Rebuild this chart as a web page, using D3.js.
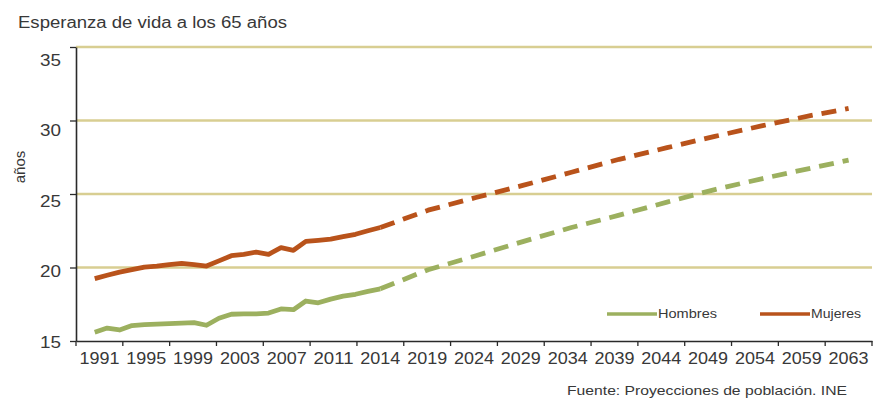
<!DOCTYPE html>
<html>
<head>
<meta charset="utf-8">
<script src="https://cdn.jsdelivr.net/npm/d3@7/dist/d3.min.js"></script>
<style>
  html, body { margin: 0; padding: 0; background: #fff; }
  svg { display: block; font-family: "Liberation Sans", Arial, sans-serif; }
  .txt { fill: #383838; }
</style>
</head>
<body>
<svg id="chart" width="873" height="404"></svg>
<script>
// Esperanza de vida a los 65 años: observed series and INE projections
const xLabels = ["1991","1995","1999","2003","2007","2011","2014","2019","2024",
                 "2029","2034","2039","2044","2049","2054","2059","2063"];
const yTicks = [15, 20, 25, 30, 35];
const gridValues = [20, 25, 30, 35];

const histYears = [1991,1992,1993,1994,1995,1996,1997,1998,1999,2000,2001,2002,
                   2003,2004,2005,2006,2007,2008,2009,2010,2011,2012,2013,2014];
const histHombres = [15.60,15.88,15.75,16.05,16.12,16.15,16.18,16.22,16.25,16.07,16.55,16.82,
                     16.84,16.85,16.90,17.18,17.13,17.72,17.60,17.85,18.05,18.18,18.37,18.55];
const histMujeres = [19.24,19.47,19.69,19.86,20.03,20.10,20.20,20.28,20.20,20.10,20.45,20.80,
                     20.90,21.05,20.90,21.35,21.17,21.78,21.85,21.93,22.10,22.26,22.50,22.72];

const projYears = [2014,2019,2024,2029,2034,2039,2044,2049,2054,2059,2063];
const projHombres = [18.55,19.85,20.80,21.78,22.72,23.56,24.45,25.30,26.05,26.75,27.30];
const projMujeres = [22.72,23.90,24.76,25.60,26.48,27.36,28.15,28.92,29.65,30.33,30.82];

const colorHombres = "#9cb05f";
const colorMujeres = "#b9531b";
const gridColor = "#d8ce92";

const svg = d3.select("#chart");
const plot = { left: 76, right: 872, top: 47, bottom: 341 };

// Category bands for the axis labels; tick marks sit between bands
const band = d3.scaleBand().domain(xLabels).range([plot.left, plot.right]);
const step = band.step();

// Year → x, anchored on the band layout of the category axis
const x = d3.scaleLinear()
  .domain([1991, 2014, 2063])
  .range([band("1991") + step * 0.4, band("2014") + step / 2, band("2063") + step / 2]);

const y = d3.scaleLinear().domain([15, 35]).range([plot.bottom, plot.top]);
// Value labels of the vertical axis are set on a slightly tighter spacing
const yLabel = d3.scaleLinear().domain([15, 35]).range([plot.bottom + 1, plot.top + 13]);

// Gridlines
svg.append("g")
  .selectAll("line")
  .data(gridValues)
  .join("line")
  .attr("x1", plot.left).attr("x2", plot.right)
  .attr("y1", d => y(d)).attr("y2", d => y(d))
  .attr("stroke", gridColor)
  .attr("stroke-width", 2.6);

// Vertical axis with outward tick marks
const yAxis = svg.append("g")
  .attr("transform", `translate(${plot.left},0)`)
  .call(d3.axisLeft(y).tickValues(yTicks).tickSize(6).tickSizeOuter(0).tickFormat(""));
yAxis.select(".domain").attr("stroke", "#2a2a2a").attr("stroke-width", 1.6);
yAxis.selectAll(".tick line").attr("stroke", "#2a2a2a").attr("stroke-width", 1.3);

svg.append("g")
  .selectAll("text")
  .data(yTicks)
  .join("text")
  .attr("class", "txt")
  .attr("x", 61)
  .attr("y", d => yLabel(d))
  .attr("dy", "0.35em")
  .attr("text-anchor", "end")
  .attr("font-size", 17)
  .attr("textLength", 21)
  .attr("lengthAdjust", "spacingAndGlyphs")
  .text(d => d);

// Horizontal axis: labels centred in each band
const xAxis = svg.append("g")
  .attr("transform", `translate(0,${plot.bottom})`)
  .call(d3.axisBottom(band).tickSize(0).tickSizeOuter(0).tickPadding(11));
xAxis.select(".domain").attr("stroke", "#2a2a2a").attr("stroke-width", 1.6);
xAxis.selectAll(".tick text")
  .attr("class", "txt")
  .attr("font-size", 16.5)
  .attr("textLength", 40)
  .attr("lengthAdjust", "spacingAndGlyphs")
  .attr("font-family", "Liberation Sans, Arial, sans-serif");

// Tick marks at the band boundaries
const boundaries = xLabels.map(l => band(l)).concat([plot.right]);
svg.append("g")
  .selectAll("line")
  .data(boundaries)
  .join("line")
  .attr("x1", d => d).attr("x2", d => d)
  .attr("y1", plot.bottom).attr("y2", plot.bottom + 5)
  .attr("stroke", "#2a2a2a")
  .attr("stroke-width", 1.3);

// Series lines
const line = d3.line().x(d => x(d.year)).y(d => y(d.v));
const zip = (years, vals) => years.map((yr, i) => ({ year: yr, v: vals[i] }));

const series = [
  { data: zip(histYears, histHombres), color: colorHombres, dash: null },
  { data: zip(histYears, histMujeres), color: colorMujeres, dash: null },
  { data: zip(projYears, projHombres), color: colorHombres, dash: "15,9" },
  { data: zip(projYears, projMujeres), color: colorMujeres, dash: "15,9" }
];

svg.append("g")
  .selectAll("path")
  .data(series)
  .join("path")
  .attr("d", d => line(d.data))
  .attr("fill", "none")
  .attr("stroke", d => d.color)
  .attr("stroke-width", 4.8)
  .attr("stroke-linejoin", "round")
  .attr("stroke-dasharray", d => d.dash);

// Legend
const legend = [
  { name: "Hombres", color: colorHombres, x: 607 },
  { name: "Mujeres", color: colorMujeres, x: 760 }
];
const lg = svg.append("g").selectAll("g").data(legend).join("g")
  .attr("transform", d => `translate(${d.x},314)`);
lg.append("line")
  .attr("x1", 0).attr("x2", 50)
  .attr("stroke", d => d.color)
  .attr("stroke-width", 3.5);
lg.append("text")
  .attr("class", "txt")
  .attr("x", 51)
  .attr("dy", "0.35em")
  .attr("font-size", 12.5)
  .attr("textLength", d => d.name === "Hombres" ? 59 : 50)
  .attr("lengthAdjust", "spacingAndGlyphs")
  .text(d => d.name);

// Title, axis title and source
svg.append("text")
  .attr("class", "txt")
  .attr("x", 18).attr("y", 28)
  .attr("font-size", 16)
  .attr("textLength", 269)
  .attr("lengthAdjust", "spacingAndGlyphs")
  .text("Esperanza de vida a los 65 años");

svg.append("text")
  .attr("class", "txt")
  .attr("transform", "translate(25,167) rotate(-90)")
  .attr("text-anchor", "middle")
  .attr("font-size", 15)
  .text("años");

svg.append("text")
  .attr("class", "txt")
  .attr("x", 567).attr("y", 395)
  .attr("font-size", 13)
  .attr("textLength", 280)
  .attr("lengthAdjust", "spacingAndGlyphs")
  .text("Fuente: Proyecciones de población. INE");
</script>
</body>
</html>
